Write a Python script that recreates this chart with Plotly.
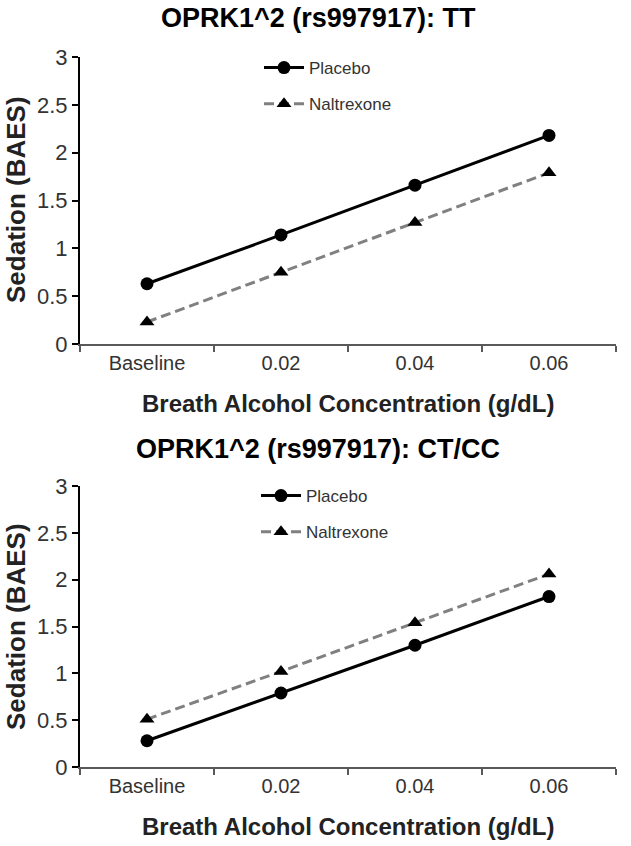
import plotly.graph_objects as go

categories = ["Baseline", "0.02", "0.04", "0.06"]
tt_placebo = [0.63, 1.14, 1.66, 2.18]
tt_naltrexone = [0.23, 0.75, 1.27, 1.79]
ctcc_placebo = [0.28, 0.79, 1.30, 1.82]
ctcc_naltrexone = [0.51, 1.02, 1.54, 2.06]
y_ticks = [0, 0.5, 1, 1.5, 2, 2.5, 3]
y_tick_labels = ["0", "0.5", "1", "1.5", "2", "2.5", "3"]
x_title = "Breath Alcohol Concentration (g/dL)"
y_title = "Sedation (BAES)"

FONT = "Liberation Sans, Arial, sans-serif"
W, H = 631, 846
ML, MR, MT, MB = 80, 15, 57, 79

def py(pix):
    return (H - MB - pix) / (H - MT - MB)

def px(pix):
    return (pix - ML) / (W - ML - MR)

def cy(pix):
    return 1 - pix / H

def cx(pix):
    return pix / W

fig = go.Figure()

def add_pair(plac, nal, xa, ya, leg):
    fig.add_trace(go.Scatter(
        x=categories, y=plac, name="Placebo", mode="lines+markers",
        line=dict(color="black", width=3),
        marker=dict(symbol="circle", size=13, color="black"),
        xaxis=xa, yaxis=ya, legend=leg, legendgroup=leg + "p"))
    fig.add_trace(go.Scatter(
        x=categories, y=nal, name="Naltrexone", mode="lines+markers",
        line=dict(color="#808080", width=3, dash="10px,5px"),
        marker=dict(symbol="triangle-up", size=13, color="black"),
        xaxis=xa, yaxis=ya, legend=leg, legendgroup=leg + "n"))

add_pair(tt_placebo, tt_naltrexone, "x", "y", "legend")
add_pair(ctcc_placebo, ctcc_naltrexone, "x2", "y2", "legend2")

xcommon = dict(
    type="category", range=[-0.5, 3.5], showline=True, linecolor="#595959",
    linewidth=2, ticks="outside", tickson="boundaries", ticklen=6,
    tickwidth=2, tickcolor="#595959", showgrid=False, zeroline=False,
    automargin=False, tickangle=0,
    tickfont=dict(family=FONT, size=20, color="#333333"),
)
ycommon = dict(
    range=[0, 3], tickvals=y_ticks, ticktext=y_tick_labels, showline=True,
    linecolor="black", linewidth=2, ticks="outside", ticklen=6, tickwidth=2,
    tickcolor="black", showgrid=False, zeroline=False, automargin=False,
    tickfont=dict(family=FONT, size=22, color="#333333"),
)

legcommon = dict(
    font=dict(family=FONT, size=17, color="#333333"),
    bgcolor="rgba(0,0,0,0)", borderwidth=0, traceorder="grouped",
    tracegroupgap=11, itemwidth=40, xanchor="left", yanchor="top",
    xref="container", yref="container",
)

def ann(text, x, y, size, angle=0, color="#222222"):
    return dict(text="<b>" + text + "</b>", xref="paper", yref="paper",
                x=x, y=y, xanchor="center", yanchor="middle", textangle=angle,
                showarrow=False, font=dict(family=FONT, size=size, color=color))

fig.update_layout(
    width=W, height=H,
    margin=dict(l=ML, r=MR, t=MT, b=MB, autoexpand=False),
    paper_bgcolor="white", plot_bgcolor="white",
    xaxis=dict(domain=[0, 1], anchor="y", **xcommon),
    yaxis=dict(domain=[py(344), 1], anchor="x", **ycommon),
    xaxis2=dict(domain=[0, 1], anchor="y2", **xcommon),
    yaxis2=dict(domain=[0, py(486)], anchor="x2", **ycommon),
    legend=dict(x=cx(259), y=cy(50), **legcommon),
    legend2=dict(x=cx(256), y=cy(478), **legcommon),
    annotations=[
        ann("OPRK1^2 (rs997917): TT", px(318), py(18), 27, color="black"),
        ann("OPRK1^2 (rs997917): CT/CC", px(318), py(449), 27, color="black"),
        ann(x_title, px(348), py(403), 24),
        ann(x_title, px(348), py(827), 24),
        ann(y_title, px(16), py(200), 26, angle=-90),
        ann(y_title, px(16), py(627), 26, angle=-90),
    ],
)

fig.write_html("out.html",
               config={"displayModeBar": False},
               post_script="document.body.style.margin='0';document.body.style.overflow='hidden';")
